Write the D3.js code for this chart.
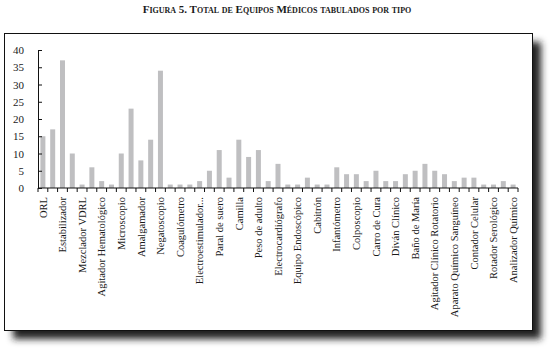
<!DOCTYPE html>
<html>
<head>
<meta charset="utf-8">
<script src="https://cdn.jsdelivr.net/npm/d3@7"></script>
<style>
    body { margin: 0; background: #ffffff; }
    text { font-family: "Liberation Serif", "DejaVu Serif", serif; fill: #1a1a1a; }
</style>
</head>
<body>
<div id="canvas"></div>
<script>
"use strict"

let svgWidth = 554
let svgHeight = 356

let topMargin = 50;
let rightMargin = 36;
let bottomMargin = 168;
let leftMargin = 38;

// names of every equipment type, only every second one is printed under the axis
let tipos = [
    "ORL", "", "Estabilizador", "", "Mezclador VDRL", "", "Agitador Hematológico", "",
    "Microscopio", "", "Amalgamador", "", "Negatoscopio", "", "Coagulómetro", "",
    "Electroestimulador...", "", "Paral de suero", "", "Camilla", "", "Peso de adulto", "",
    "Electrocardiógrafo", "", "Equipo Endoscópico", "", "Cabitrón", "", "Infantómetro", "",
    "Colposcopio", "", "Carro de Cura", "", "Diván Clínico", "", "Baño de María", "",
    "Agitador Clínico Rotatorio", "", "Aparato Químico Sanguíneo", "", "Contador Celular", "",
    "Rotador Serológico", "", "Analizador Químico"
]

// total of equipment counted for each type
let totales = [
    15, 17, 37, 10, 1, 6, 2, 1, 10, 23, 8, 14, 34, 1, 1, 1, 2,
    5, 11, 3, 14, 9, 11, 2, 7, 1, 1, 3, 1, 1, 6, 4, 4, 2, 5, 2,
    2, 4, 5, 7, 5, 4, 2, 3, 3, 1, 1, 2, 1
]

let yTicks = [0, 5, 10, 15, 20, 25, 30, 35, 40]

let xScale, yScale

let svg = d3.select("#canvas")
    .append("svg")
    .attr("width", svgWidth)
    .attr("height", svgHeight)

/* frame with drop shadow */
let defs = svg.append("defs")
defs.append("filter")
    .attr("id", "sombra")
    .attr("x", "-10%").attr("y", "-10%")
    .attr("width", "130%").attr("height", "130%")
    .append("feGaussianBlur")
    .attr("stdDeviation", 3.5)

svg.append("rect")
    .attr("x", 13)
    .attr("y", 42)
    .attr("width", 528)
    .attr("height", 297)
    .attr("fill", "#222")
    .attr("filter", "url(#sombra)")

svg.append("rect")
    .attr("x", 4.5)
    .attr("y", 33.5)
    .attr("width", 528)
    .attr("height", 297)
    .attr("fill", "white")
    .attr("stroke", "#111")
    .attr("stroke-width", 1)

svg.append("text")
    .attr("x", 277)
    .attr("y", 13)
    .style("text-anchor", "middle")
    .style("font-size", "11px")
    .style("font-weight", "bold")
    .style("font-variant", "small-caps")
    .text("Figura 5. Total de Equipos Médicos tabulados por tipo")

buildScales()
drawVisualization()

function buildScales() {
    xScale = d3.scaleBand()
        .domain(d3.range(totales.length))
        .range([leftMargin, svgWidth - rightMargin])
        .paddingInner(0.49)
        .paddingOuter(0.245)

    yScale = d3.scaleLinear()
        .domain([0, 40])
        .range([svgHeight - bottomMargin, topMargin])
}

function drawVisualization() {
    let baseY = yScale(0)

    /* bars */
    svg.selectAll("rect.barra")
        .data(totales)
        .join("rect")
        .classed("barra", true)
        .attr("x", function (value, i) {
            return xScale(i);
        })
        .attr("y", function (value) {
            return yScale(value);
        })
        .attr("width", xScale.bandwidth())
        .attr("height", function (value) {
            return baseY - yScale(value);
        })
        .attr("fill", "#bfbfc1")

    /* y axis, ticks point into the plot */
    let yAxis = svg.append("g")
        .attr("transform", `translate(${leftMargin},0)`)
        .call(d3.axisLeft(yScale).tickValues(yTicks).tickSize(-4).tickPadding(14))
    yAxis.select(".domain").attr("stroke", "#111")
    yAxis.selectAll(".tick line").attr("stroke", "#111")
    yAxis.selectAll("text")
        .style("font-size", "11px")
        .style("font-family", "Liberation Serif, serif")
        .attr("fill", "#1a1a1a")

    /* x axis line and boundary ticks */
    let step = xScale.step()
    let bordes = d3.range(totales.length + 1).map(function (i) {
        return leftMargin + i * step;
    })
    svg.append("line")
        .attr("x1", leftMargin)
        .attr("x2", svgWidth - rightMargin)
        .attr("y1", baseY)
        .attr("y2", baseY)
        .attr("stroke", "#111")
    svg.selectAll("line.marca")
        .data(bordes)
        .join("line")
        .classed("marca", true)
        .attr("x1", function (value) { return value; })
        .attr("x2", function (value) { return value; })
        .attr("y1", baseY)
        .attr("y2", baseY + 4)
        .attr("stroke", "#111")

    /* category labels */
    svg.selectAll("text.tipo")
        .data(tipos)
        .join("text")
        .classed("tipo", true)
        .attr("transform", function (value, i) {
            let x = xScale(i) + xScale.bandwidth() / 2
            return `translate(${x},${baseY + 9}) rotate(-90)`
        })
        .attr("dy", "0.35em")
        .style("text-anchor", "end")
        .style("font-size", "10.5px")
        .text(function (value) { return value; })
}
</script>
</body>
</html>
